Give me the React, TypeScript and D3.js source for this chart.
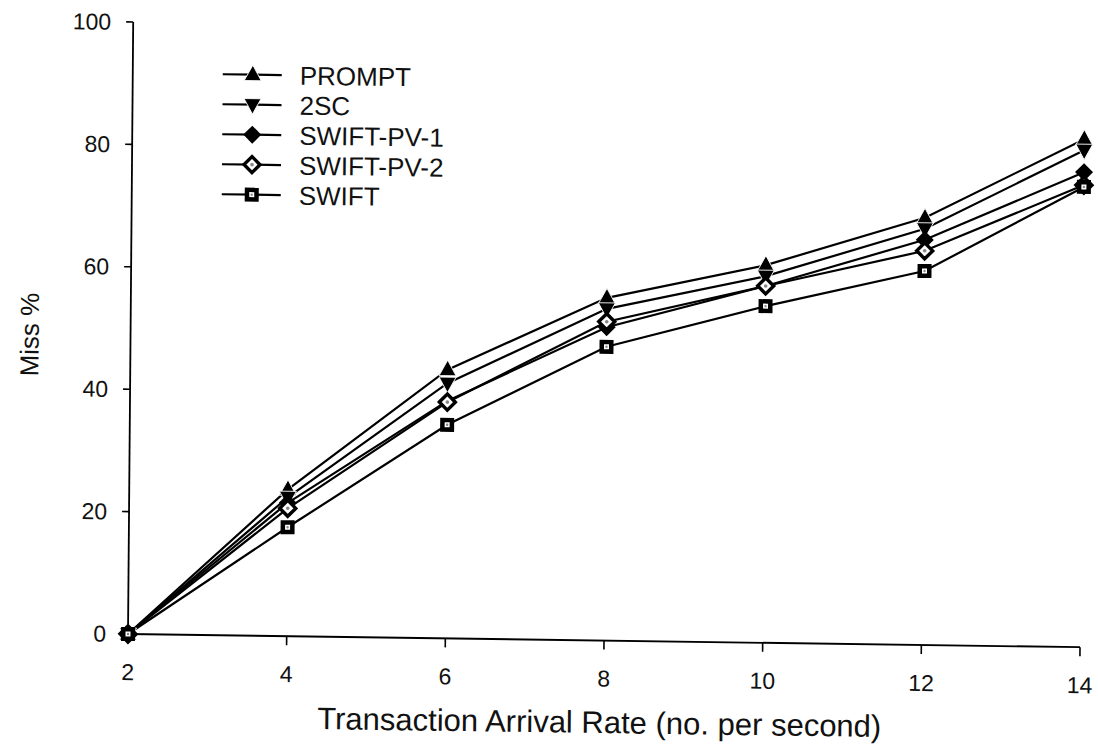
import React from "react";
import * as d3 from "d3";

const xValues = [2, 4, 6, 8, 10, 12, 14];
const seriesNames = ["PROMPT", "2SC", "SWIFT-PV-1", "SWIFT-PV-2", "SWIFT"];
const prompt = [0, 24.0, 43.9, 56.0, 61.7, 69.8, 83.0];
const twoSC = [0, 22.7, 41.7, 54.2, 59.9, 68.0, 81.2];
const swiftPV1 = [0, 21.8, 38.8, 51.2, 58.3, 66.2, 77.6];
const swiftPV2 = [0, 20.9, 38.6, 52.1, 58.3, 64.4, 75.5];
const swift = [0, 17.8, 34.9, 48.0, 55.0, 61.1, 75.2];
const seriesValues = [prompt, twoSC, swiftPV1, swiftPV2, swift];
const markerKinds = ["triUp", "triDown", "diamond", "diamondHollow", "square"];
const yTicks = [0, 20, 40, 60, 80, 100];
const xTicks = [2, 4, 6, 8, 10, 12, 14];

const FONT = "'Liberation Sans', Arial, Helvetica, sans-serif";

function Marker({ kind, x, y }: { kind: string; x: number; y: number }) {
  const t = `translate(${x},${y})`;
  switch (kind) {
    case "triUp":
      return <path transform={t} d="M0,-9.5 L8.5,6 L-8.5,6 Z" fill="#000" stroke="#fff" strokeWidth={0.9} />;
    case "triDown":
      return <path transform={t} d="M0,9.5 L8.5,-6 L-8.5,-6 Z" fill="#000" stroke="#fff" strokeWidth={0.9} />;
    case "diamond":
      return <path transform={t} d="M0,-9 L9,0 L0,9 L-9,0 Z" fill="#000" />;
    case "diamondHollow":
      return (
        <g transform={t}>
          <path d="M0,-8 L8,0 L0,8 L-8,0 Z" fill="#fff" stroke="#000" strokeWidth={3.4} />
          <circle r={1.8} fill="#888" />
        </g>
      );
    case "square":
      return (
        <g transform={t}>
          <rect x={-7} y={-7} width={14} height={14} fill="#000" />
          <rect x={-2.5} y={-2.5} width={5} height={5} fill="#fff" />
          <circle r={1.2} fill="#888" />
        </g>
      );
    default:
      return null;
  }
}

export default function App() {
  const W = 1098;
  const H = 749;
  const x = d3.scaleLinear().domain([2, 14]).range([0, 952]);
  const y = d3.scaleLinear().domain([0, 100]).range([0, -612]);
  const line = d3
    .line<number>()
    .x((_, i) => x(xValues[i]))
    .y((d) => y(d));

  const legendX = 120;
  const legendY0 = -561;
  const legendDy = 30;

  return (
    <svg
      width={W}
      height={H}
      style={{ position: "absolute", left: 0, top: 0, background: "#fff" }}
      fontFamily={FONT}
    >
      <rect width={W} height={H} fill="#fff" />
      <g transform="matrix(1,0.0138,-0.0085,1,128,634)">
        {/* axes */}
        <line x1={0} y1={0} x2={x(14)} y2={0} stroke="#000" strokeWidth={1.8} />
        <line x1={0} y1={0} x2={0} y2={y(100)} stroke="#000" strokeWidth={1.8} />
        {yTicks.map((t) => (
          <g key={"y" + t}>
            <line x1={-7} x2={0} y1={y(t)} y2={y(t)} stroke="#000" strokeWidth={1.6} />
            <text x={-22} y={y(t)} dy="0.35em" textAnchor="end" fontSize={23} fill="#111">
              {t}
            </text>
          </g>
        ))}
        {xTicks.map((t) => (
          <g key={"x" + t}>
            {t !== 2 && (
              <line x1={x(t)} x2={x(t)} y1={0} y2={9} stroke="#000" strokeWidth={1.6} />
            )}
            <text x={x(t)} y={46} textAnchor="middle" fontSize={23} fill="#111">
              {t}
            </text>
          </g>
        ))}
        <text x={472} y={92.5} textAnchor="middle" fontSize={31} fill="#111">
          Transaction Arrival Rate (no. per second)
        </text>
        <text
          transform={`translate(${-101},${-298}) rotate(-90)`}
          textAnchor="middle"
          dy="0.35em"
          fontSize={26}
          fill="#111"
        >
          Miss %
        </text>

        {/* lines */}
        {seriesValues.map((vals, si) => (
          <path key={"l" + si} d={line(vals) || ""} fill="none" stroke="#000" strokeWidth={2.2} />
        ))}
        {/* markers */}
        {seriesValues.map((vals, si) => (
          <g key={"m" + si}>
            {vals.map((v, i) => (
              <Marker key={i} kind={markerKinds[si]} x={x(xValues[i])} y={y(v)} />
            ))}
          </g>
        ))}

        {/* legend */}
        {seriesNames.map((name, i) => {
          const ly = legendY0 + i * legendDy;
          return (
            <g key={"lg" + i}>
              <line x1={legendX - 30} x2={legendX + 29} y1={ly} y2={ly} stroke="#000" strokeWidth={2.2} />
              <Marker kind={markerKinds[i]} x={legendX} y={ly} />
              <text x={legendX + 47} y={ly} dy="0.36em" fontSize={26} fill="#111">
                {name}
              </text>
            </g>
          );
        })}
      </g>
    </svg>
  );
}
